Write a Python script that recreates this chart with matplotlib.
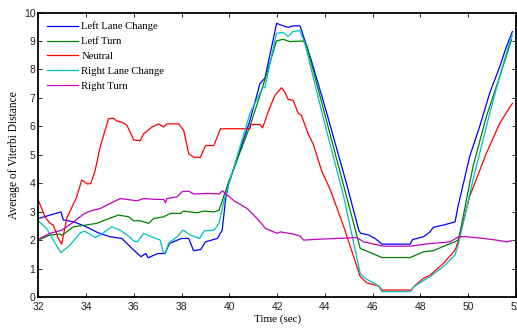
import matplotlib
matplotlib.use("Agg")
import matplotlib.pyplot as plt

# Average of Viterbi distance per manoeuvre model

left_lane_x = [32.0, 32.5, 32.95, 33.05, 33.5, 34.0, 34.3, 34.5, 35.0, 35.5, 36.0, 36.3, 36.5, 36.6,
               37.0, 37.3, 37.5, 38.0, 38.3, 38.5, 38.8, 39.0, 39.5, 39.7, 39.85, 40.0, 40.1, 40.5,
               40.86, 41.28, 41.49, 41.98, 42.19, 42.46, 42.67, 42.95, 43.02, 43.05, 43.44, 44.0,
               44.92, 45.42, 45.5, 45.83, 46.1, 46.39, 47.57, 47.67, 48.13, 48.4, 48.54, 48.96,
               49.45, 49.57, 50.06, 50.48, 50.9, 51.32, 51.6, 51.85]
left_lane_y = [2.77, 2.89, 3.0, 2.72, 2.65, 2.48, 2.36, 2.27, 2.13, 2.07, 1.66, 1.43, 1.54, 1.39,
               1.54, 1.54, 1.9, 2.07, 2.07, 1.64, 1.68, 1.95, 2.07, 2.36, 3.5, 4.1, 4.3, 5.3,
               6.2, 7.5, 7.7, 9.62, 9.55, 9.48, 9.53, 9.53, 9.4, 9.3, 8.3, 6.7,
               3.95, 2.35, 2.25, 2.19, 2.07, 1.87, 1.87, 2.03, 2.13, 2.3, 2.46, 2.54,
               2.65, 3.18, 4.94, 6.0, 7.17, 8.1, 8.8, 9.33]

left_turn_x = [32.0, 32.49, 32.91, 33.0, 33.47, 34.0, 34.45, 34.87, 35.36, 35.78, 36.0, 36.27, 36.62,
               36.83, 37.25, 37.53, 37.95, 38.09, 38.65, 38.93, 39.36, 39.57, 39.71, 39.95, 40.86,
               41.4, 41.97, 42.25, 42.53, 43.09, 43.23, 43.99, 44.9, 45.48, 46.39, 47.57, 48.13,
               48.54, 49.1, 49.45, 49.6, 50.2, 50.76, 51.32, 51.81]
left_turn_y = [2.01, 2.19, 2.22, 2.18, 2.48, 2.54, 2.6, 2.74, 2.89, 2.83, 2.69, 2.69, 2.6,
               2.77, 2.83, 2.95, 2.95, 3.03, 2.97, 3.03, 3.0, 3.06, 3.41, 4.0, 6.0,
               7.4, 9.0, 9.06, 8.98, 9.0, 8.86, 6.45, 3.56, 1.72, 1.4, 1.4, 1.6,
               1.64, 1.84, 1.95, 2.04, 4.59, 6.35, 7.75, 9.04]

neutral_x = [32.0, 32.28, 32.49, 32.63, 32.84, 32.98, 33.19, 33.61, 33.82, 34.06, 34.2, 34.38, 34.59,
             34.94, 35.15, 35.29, 35.5, 35.71, 35.85, 35.99, 36.27, 36.41, 36.76, 37.04, 37.25,
             37.39, 37.88, 38.09, 38.3, 38.51, 38.79, 39.0, 39.35, 39.63, 40.86, 40.9, 41.28,
             41.39, 41.7, 41.91, 42.18, 42.32, 42.46, 42.67, 42.88, 43.02, 43.3, 43.51, 43.86,
             44.23, 44.79, 45.48, 45.76, 46.25, 46.39, 47.64, 47.71, 48.13, 48.4, 48.96, 49.45,
             49.6, 50.06, 50.76, 51.32, 51.67, 51.85]
neutral_y = [3.42, 2.83, 2.6, 2.54, 2.07, 1.87, 2.77, 3.53, 4.12, 3.98, 4.0, 4.45, 5.27,
             6.27, 6.29, 6.19, 6.15, 6.04, 5.8, 5.53, 5.5, 5.74, 5.98, 6.09, 5.98,
             6.09, 6.09, 5.86, 5.04, 4.92, 4.92, 5.33, 5.33, 5.92, 5.92, 6.07, 6.07,
             5.95, 6.68, 7.09, 7.36, 7.21, 6.95, 6.92, 6.47, 6.39, 5.74, 5.39, 4.45,
             3.77, 2.48, 0.73, 0.51, 0.4, 0.26, 0.26, 0.37, 0.67, 0.78, 1.19, 1.66,
             2.01, 3.54, 5.06, 6.11, 6.58, 6.81]

right_lane_x = [32.0, 32.35, 32.63, 32.95, 33.33, 33.75, 33.92, 34.17, 34.38, 34.59, 35.08, 35.43,
                35.78, 36.0, 36.16, 36.41, 36.83, 37.11, 37.22, 37.32, 37.46, 37.81, 38.06, 38.37,
                38.75, 38.96, 39.36, 39.57, 39.78, 40.86, 41.39, 41.49, 41.97, 42.25, 42.46, 42.67,
                42.95, 43.16, 43.99, 44.79, 45.48, 45.69, 46.25, 46.39, 47.57, 47.71, 48.4, 48.96,
                49.45, 49.6, 50.2, 50.9, 51.32, 51.74, 51.85]
right_lane_y = [2.69, 2.42, 2.01, 1.57, 1.84, 2.25, 2.33, 2.22, 2.1, 2.19, 2.48, 2.36,
                2.15, 1.98, 1.95, 2.25, 2.1, 2.01, 1.6, 1.54, 1.9, 2.13, 2.36, 2.19,
                2.07, 2.34, 2.36, 2.6, 3.41, 6.45, 7.36, 7.36, 9.27, 9.3, 9.16, 9.33,
                9.37, 8.92, 6.11, 3.53, 0.84, 0.67, 0.4, 0.2, 0.2, 0.37, 0.73, 1.08,
                1.49, 1.9, 4.12, 6.46, 7.75, 8.98, 9.2]

right_turn_x = [32.0, 32.49, 32.98, 33.4, 33.89, 34.17, 34.59, 35.01, 35.43, 35.71, 36.13, 36.41,
                36.97, 37.25, 37.32, 37.39, 37.81, 38.02, 38.3, 38.51, 39.07, 39.57, 39.71, 39.92,
                40.2, 40.75, 41.23, 41.51, 42.0, 42.14, 42.7, 42.97, 43.11, 43.67, 44.51, 45.34,
                45.62, 46.46, 47.57, 48.4, 49.24, 49.6, 49.94, 50.64, 51.2, 51.61, 51.82]
right_turn_y = [2.04, 2.25, 2.36, 2.6, 2.92, 3.03, 3.12, 3.3, 3.47, 3.44, 3.39, 3.47,
                3.44, 3.44, 3.32, 3.47, 3.53, 3.71, 3.73, 3.63, 3.65, 3.63, 3.74, 3.59,
                3.39, 3.12, 2.71, 2.42, 2.25, 2.3, 2.22, 2.15, 2.01, 2.04, 2.07, 2.1,
                1.95, 1.8, 1.8, 1.89, 1.95, 2.13, 2.13, 2.07, 2.01, 1.95, 1.99]

fig = plt.figure(figsize=(5.17, 3.29), dpi=100)
ax = fig.add_axes([0.074, 0.096, 0.924, 0.866])

serif = ['Liberation Serif', 'DejaVu Serif']
lw = 0.9
ax.plot(left_lane_x, left_lane_y, color='#0000ff', lw=lw, label='Left Lane Change')
ax.plot(left_turn_x, left_turn_y, color='#008000', lw=lw, label='Letf Turn')
ax.plot(neutral_x, neutral_y, color='#ff0000', lw=lw, label='Neutral')
ax.plot(right_lane_x, right_lane_y, color='#00bfbf', lw=lw, label='Right Lane Change')
ax.plot(right_turn_x, right_turn_y, color='#bf00bf', lw=lw, label='Right Turn')

ax.set_xlim(32, 52)
ax.set_ylim(0, 10)
ax.set_xticks(range(32, 53, 2))
ax.set_yticks(range(0, 11))
ax.tick_params(direction='in', length=3, width=0.6, top=True, right=True,
               labelsize=7.5, labelcolor='#222222')
ax.tick_params(axis='x', pad=3)
ax.tick_params(axis='y', pad=2)
for lab in ax.get_xticklabels() + ax.get_yticklabels():
    lab.set_family(['Liberation Sans', 'DejaVu Sans'])
for sp in ax.spines.values():
    sp.set_linewidth(1.3)

ax.set_xlabel('Time (sec)', family=serif, fontsize=8, labelpad=2)
ax.set_ylabel('Average of Viterbi Distance', family=serif, fontsize=8.3, labelpad=3)

leg = ax.legend(loc='upper left', frameon=False, prop={'family': serif, 'size': 7.7},
                handlelength=2.9, handletextpad=0.3, labelspacing=0.5,
                borderaxespad=0.2, bbox_to_anchor=(0.005, 0.99))

fig.savefig('out.png', dpi=100)
